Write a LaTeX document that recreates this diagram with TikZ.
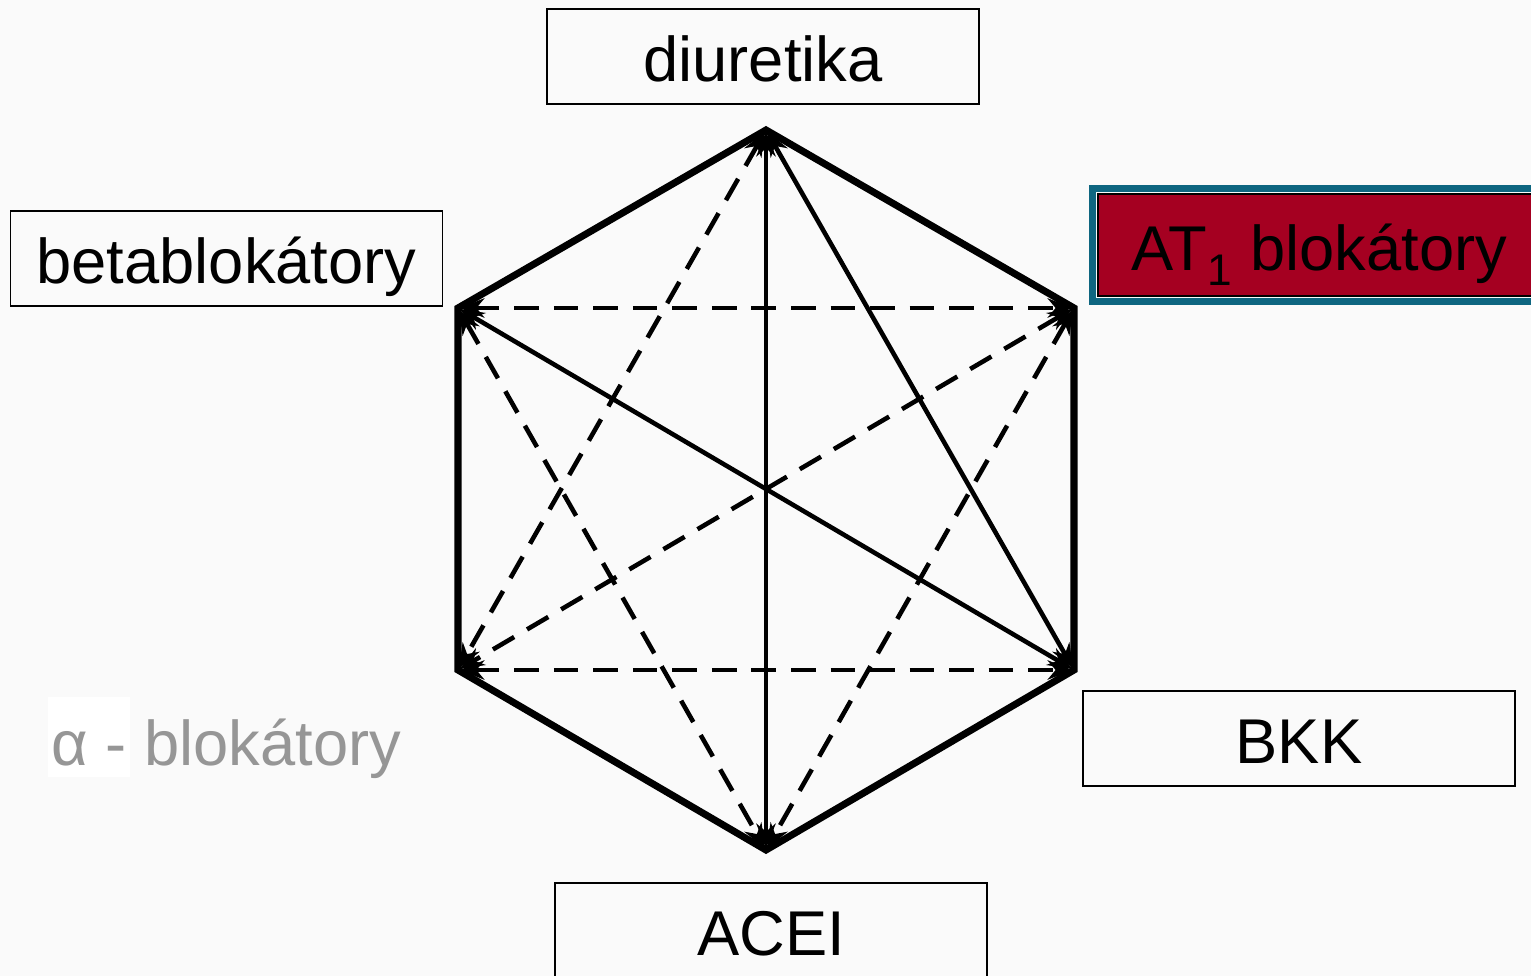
\documentclass[tikz,border=0pt]{standalone}
\usepackage{fontspec}
\setmainfont{Liberation Sans}
\usetikzlibrary{arrows.meta}
\definecolor{atred}{RGB}{165,0,33}
\definecolor{atteal}{RGB}{14,102,128}
\definecolor{alfagray}{RGB}{150,150,150}
\tikzset{
  lek/.style={draw=black, line width=1.1pt, minimum width=8.64cm, minimum height=1.9cm, text height=29pt, text depth=0pt, font=\fontsize{36}{40}\selectfont},
  hrana/.style={black, line width=4pt, line join=miter},
  kombi/.style={black, line width=2.6pt, {Stealth[length=14pt,width=11pt]}-{Stealth[length=14pt,width=11pt]}, shorten <=1pt, shorten >=1pt},
  carkovane/.style={kombi, dash pattern=on 14pt off 8.5pt}
}
\begin{document}
\begin{tikzpicture}
\fill[gray!4] (0,0) rectangle (30.62,-19.52);
\useasboundingbox (0,0) rectangle (30.62,-19.52);
% vrcholy sestiuhelniku
\coordinate (T) at (15.32,-2.6);
\coordinate (UL) at (9.16,-6.16);
\coordinate (UR) at (21.48,-6.16);
\coordinate (LL) at (9.16,-13.4);
\coordinate (LR) at (21.48,-13.4);
\coordinate (B) at (15.32,-17.0);
% plne a carkovane kombinace
\draw[kombi](T)--(B);
\draw[kombi](UL)--(LR);
\draw[kombi](T)--(LR);
\foreach \a/\b in {UL/UR,LL/LR,T/LL,UL/B,UR/LL,UR/B}{
	\draw[carkovane](\a)--(\b);
}
\draw[hrana](T)--(UR)--(LR)--(B)--(LL)--(UL)--cycle;
% skupiny leku
\node[lek] (diur) at (15.26,-1.13) {diuretika};
\node[lek] (beta) at (4.53,-5.17) {betablok\'atory};
\node[lek] (bkk) at (25.98,-14.77) {BKK};
\node[lek] (acei) at (15.42,-18.61) {ACEI};
\node[lek, fill=atred, minimum width=8.84cm, minimum height=2.04cm, inner sep=0pt] (at) at (26.38,-4.9) {AT\textsubscript{1} blok\'atory};
\draw[atteal, line width=4pt] ([shift={(-0.1,0.1)}]at.north west) rectangle ([shift={(0.1,-0.1)}]at.south east);
\fill[white] (0.96,-13.94) rectangle (2.6,-15.54);
\node[font=\fontsize{36}{40}\selectfont, text=alfagray, anchor=base] (alfa) at (4.53,-15.3) {α - blok\'atory};
\end{tikzpicture}
\end{document}
